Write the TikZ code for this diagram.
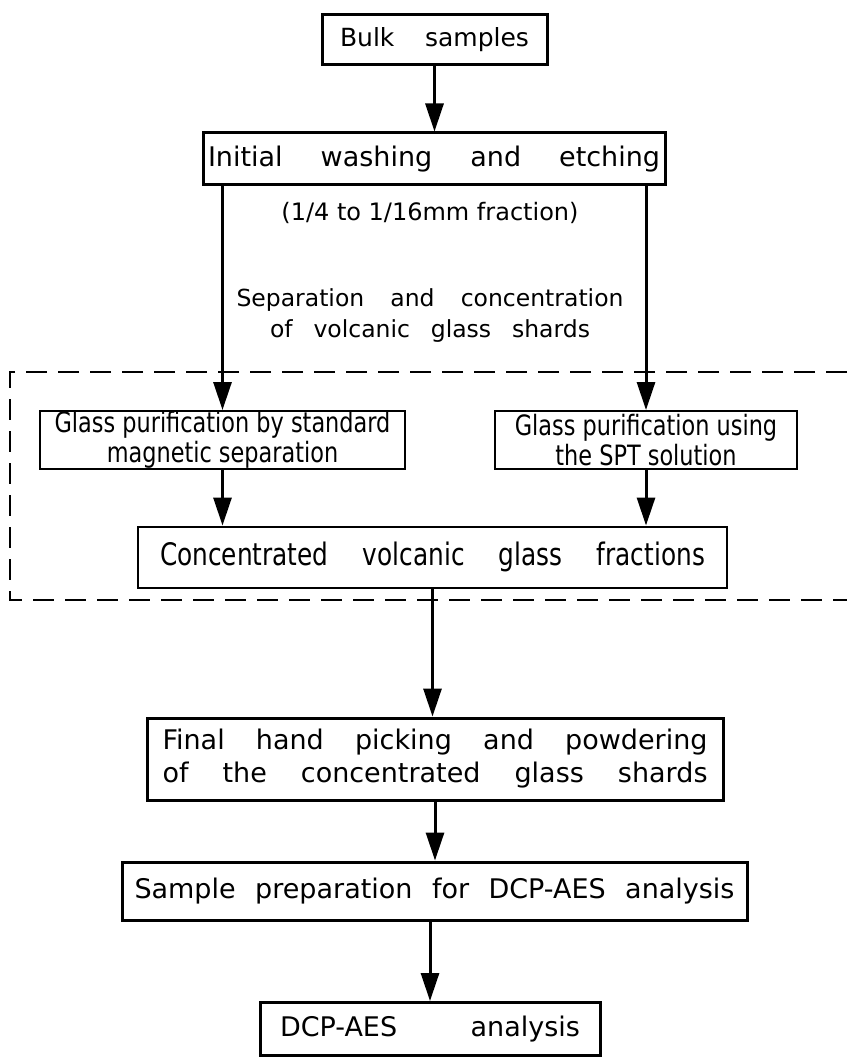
\documentclass[tikz,border=0pt]{standalone}
\usepackage{fontspec}
\setmainfont{DejaVu Sans}
\newfontfamily\narrowfont[FakeStretch=0.8]{DejaVu Sans}
\usetikzlibrary{arrows.meta}
\newcommand{\spreadtext}[2]{\makebox[#1][s]{#2}}

\begin{document}
\begin{tikzpicture}[x=1pt,y=-1pt,
  stepbox/.style={draw,line width=3pt,inner sep=0pt,align=center,font=\fontsize{27}{33}\selectfont},
  glassbox/.style={draw,line width=2pt,inner sep=0pt,align=center,font=\narrowfont\fontsize{28}{30}\selectfont},
  arr/.style={line width=3pt,-{Triangle[length=28pt,width=18pt]}}]
\useasboundingbox (0,0) rectangle (847,1064);
% main steps
\node[stepbox,minimum width=225pt,minimum height=50pt,font=\fontsize{25}{30}\selectfont] (bulk) at (434.5,40) {\spreadtext{189pt}{Bulk samples}};
\node[stepbox,minimum width=462pt,minimum height=52pt] (initial) at (434,159) {\spreadtext{452pt}{Initial washing and etching}};
\node[font=\fontsize{24}{28}\selectfont] (frac) at (430,213) {(1/4 to 1/16mm fraction)};
\node[align=center,font=\fontsize{23.5}{31}\selectfont] (sep) at (430,316) {\spreadtext{387pt}{Separation and concentration}\\ \spreadtext{320pt}{of volcanic glass shards}};
% separation part
\node[glassbox,minimum width=365pt,minimum height=58pt] (glassmag) at (222.5,440) {Glass purification by standard\\ magnetic separation};
\node[glassbox,minimum width=302pt,minimum height=58pt] (glassspt) at (646,440) {Glass purification using\\ the SPT solution};
\node[glassbox,minimum width=589pt,minimum height=61pt,font=\narrowfont\fontsize{31}{36}\selectfont] (conc) at (432.5,557) {\spreadtext{545pt}{Concentrated volcanic glass fractions}};
\draw[line width=2.6pt,dash pattern=on 21pt off 11pt] (847,372) -- (10,372) -- (10,600) -- (847,600);
% last steps
\node[stepbox,minimum width=576pt,minimum height=82pt] (final) at (435,759) {\spreadtext{545pt}{Final hand picking and powdering}\\ \spreadtext{545pt}{of the concentrated glass shards}};
\node[stepbox,minimum width=625pt,minimum height=58pt] (prep) at (434.5,891) {\spreadtext{600pt}{Sample preparation for DCP-AES analysis}};
\node[stepbox,minimum width=340pt,minimum height=53pt,font=\fontsize{27}{30}\selectfont] (dcp) at (430,1029) {\spreadtext{300pt}{DCP-AES analysis}};
% arrows
\draw[arr] (bulk) -- (bulk |- initial.north);
\draw[arr] (initial.south -| glassmag) -- (glassmag);
\draw[arr] (initial.south -| glassspt) -- (glassspt);
\draw[arr] (glassmag) -- (conc.north -| glassmag);
\draw[arr] (glassspt) -- (conc.north -| glassspt);
\draw[arr] (conc) -- (conc |- final.north);
\draw[arr] (final) -- (final |- prep.north);
\draw[arr] (prep.south -| dcp) -- (dcp);
\end{tikzpicture}
\end{document}
